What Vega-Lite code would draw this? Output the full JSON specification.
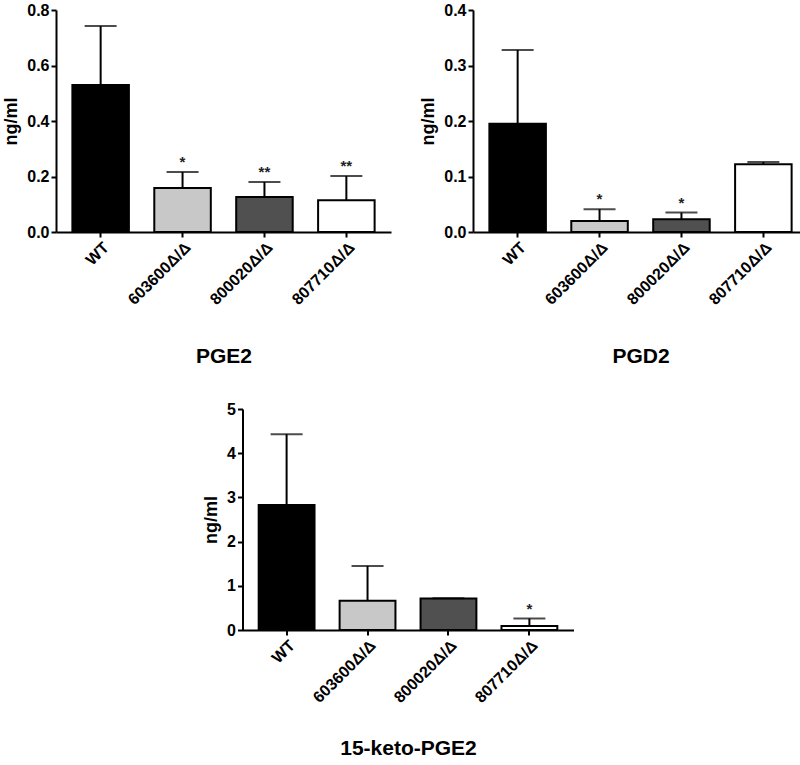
{
  "$schema": "https://vega.github.io/schema/vega-lite/v6.json",
  "background": "white",
  "padding": {"left": 2, "top": 2, "right": 0, "bottom": 0},
  "config": {
    "font": "Liberation Sans",
    "view": {"stroke": null},
    "axis": {
      "domainColor": "black", "domainWidth": 2, "tickColor": "black", "tickWidth": 2, "tickSize": 5,
      "labelFont": "Liberation Sans", "labelFontWeight": "bold", "labelFontSize": 16, "labelColor": "black",
      "titleFont": "Liberation Sans", "titleFontWeight": "bold", "titleColor": "black", "grid": false
    }
  },
  "datasets": {
    "d": [
      {"panel": "PGE2", "genotype": "WT", "mean": 0.53, "upper": 0.742, "sig": ""},
      {"panel": "PGE2", "genotype": "603600Δ/Δ", "mean": 0.159, "upper": 0.216, "sig": "*"},
      {"panel": "PGE2", "genotype": "800020Δ/Δ", "mean": 0.126, "upper": 0.180, "sig": "**"},
      {"panel": "PGE2", "genotype": "807710Δ/Δ", "mean": 0.114, "upper": 0.202, "sig": "**"},
      {"panel": "PGD2", "genotype": "WT", "mean": 0.195, "upper": 0.328, "sig": ""},
      {"panel": "PGD2", "genotype": "603600Δ/Δ", "mean": 0.020, "upper": 0.041, "sig": "*"},
      {"panel": "PGD2", "genotype": "800020Δ/Δ", "mean": 0.023, "upper": 0.035, "sig": "*"},
      {"panel": "PGD2", "genotype": "807710Δ/Δ", "mean": 0.122, "upper": 0.126, "sig": ""},
      {"panel": "15-keto-PGE2", "genotype": "WT", "mean": 2.83, "upper": 4.43, "sig": ""},
      {"panel": "15-keto-PGE2", "genotype": "603600Δ/Δ", "mean": 0.66, "upper": 1.45, "sig": ""},
      {"panel": "15-keto-PGE2", "genotype": "800020Δ/Δ", "mean": 0.71, "upper": 0.72, "sig": ""},
      {"panel": "15-keto-PGE2", "genotype": "807710Δ/Δ", "mean": 0.09, "upper": 0.26, "sig": "*"}
    ]
  },
  "vconcat": [
    {
      "hconcat": [
        {
          "width": 335, "height": 222,
          "data": {"name": "d"},
          "transform": [{"filter": "datum.panel === 'PGE2'"}],
          "encoding": {
            "x": {"field": "genotype", "type": "nominal", "sort": null,
              "scale": {"paddingInner": 0.31, "paddingOuter": 0.2},
              "axis": {"title": "PGE2", "labelAngle": -45, "titleFontSize": 21, "titlePadding": 38}}
          },
          "layer": [
            {"mark": {"type": "rule", "color": "black", "strokeWidth": 2},
             "encoding": {"y": {"field": "mean", "type": "quantitative"}, "y2": {"field": "upper"}}},
            {"mark": {"type": "tick", "color": "black", "thickness": 2, "size": 32},
             "encoding": {"y": {"field": "upper", "type": "quantitative"}}},
            {"mark": {"type": "bar", "stroke": "black", "strokeWidth": 2},
             "encoding": {
               "y": {"field": "mean", "type": "quantitative", "scale": {"domain": [0, 0.8]},
                 "axis": {"title": "ng/ml", "titleFontSize": 18, "titlePadding": 6, "values": [0, 0.2, 0.4, 0.6, 0.8], "format": ".1f"}},
               "color": {"field": "genotype", "type": "nominal", "sort": null, "legend": null,
                 "scale": {"domain": ["WT", "603600Δ/Δ", "800020Δ/Δ", "807710Δ/Δ"], "range": ["#000000", "#c8c8c8", "#505050", "#ffffff"]}}
             }},
            {"mark": {"type": "text", "baseline": "bottom", "dy": -2, "fontSize": 15, "fontWeight": "bold", "color": "#222"},
             "encoding": {"y": {"field": "upper", "type": "quantitative"}, "text": {"field": "sig"}}}
          ]
        },
        {
          "width": 335, "height": 222,
          "data": {"name": "d"},
          "transform": [{"filter": "datum.panel === 'PGD2'"}],
          "encoding": {
            "x": {"field": "genotype", "type": "nominal", "sort": null,
              "scale": {"paddingInner": 0.31, "paddingOuter": 0.2},
              "axis": {"title": "PGD2", "labelAngle": -45, "titleFontSize": 21, "titlePadding": 38}}
          },
          "layer": [
            {"mark": {"type": "rule", "color": "black", "strokeWidth": 2},
             "encoding": {"y": {"field": "mean", "type": "quantitative"}, "y2": {"field": "upper"}}},
            {"mark": {"type": "tick", "color": "black", "thickness": 2, "size": 32},
             "encoding": {"y": {"field": "upper", "type": "quantitative"}}},
            {"mark": {"type": "bar", "stroke": "black", "strokeWidth": 2},
             "encoding": {
               "y": {"field": "mean", "type": "quantitative", "scale": {"domain": [0, 0.4]},
                 "axis": {"title": "ng/ml", "titleFontSize": 18, "titlePadding": 6, "values": [0, 0.1, 0.2, 0.3, 0.4], "format": ".1f"}},
               "color": {"field": "genotype", "type": "nominal", "sort": null, "legend": null,
                 "scale": {"domain": ["WT", "603600Δ/Δ", "800020Δ/Δ", "807710Δ/Δ"], "range": ["#000000", "#c8c8c8", "#505050", "#ffffff"]}}
             }},
            {"mark": {"type": "text", "baseline": "bottom", "dy": -2, "fontSize": 15, "fontWeight": "bold", "color": "#222"},
             "encoding": {"y": {"field": "upper", "type": "quantitative"}, "text": {"field": "sig"}}}
          ]
        }
      ],
      "spacing": 28
    },
    {
      "width": 331, "height": 221,
      "data": {"name": "d"},
      "transform": [{"filter": "datum.panel === '15-keto-PGE2'"}],
      "encoding": {
        "x": {"field": "genotype", "type": "nominal", "sort": null,
          "scale": {"paddingInner": 0.31, "paddingOuter": 0.2},
          "axis": {"title": "15-keto-PGE2", "labelAngle": -45, "titleFontSize": 21, "titlePadding": 32}}
      },
      "layer": [
        {
          "layer": [
            {"mark": {"type": "rule", "color": "black", "strokeWidth": 2},
             "encoding": {"y": {"field": "mean", "type": "quantitative"}, "y2": {"field": "upper"}}},
            {"mark": {"type": "bar", "stroke": "black", "strokeWidth": 2},
             "encoding": {
               "y": {"field": "mean", "type": "quantitative", "scale": {"domain": [0, 5]},
                 "axis": {"title": "ng/ml", "titleFontSize": 18, "titlePadding": 6, "values": [0, 1, 2, 3, 4, 5], "format": "d"}},
               "color": {"field": "genotype", "type": "nominal", "sort": null, "legend": null,
                 "scale": {"domain": ["WT", "603600Δ/Δ", "800020Δ/Δ", "807710Δ/Δ"], "range": ["#000000", "#c8c8c8", "#505050", "#ffffff"]}}
             }},
            {"mark": {"type": "text", "baseline": "bottom", "dy": -2, "fontSize": 15, "fontWeight": "bold", "color": "#222"},
             "encoding": {"y": {"field": "upper", "type": "quantitative"}, "text": {"field": "sig"}}}
          ]
        },
        {"mark": {"type": "tick", "color": "black", "thickness": 2, "size": 32},
         "encoding": {"y": {"field": "upper", "type": "quantitative", "scale": {"domain": [0, 5]},
           "axis": {"orient": "right", "labels": false, "ticks": false, "domain": false, "title": null, "minExtent": 48, "maxExtent": 48}}}}
      ],
      "resolve": {"scale": {"y": "independent"}, "axis": {"y": "independent"}}
    }
  ],
  "spacing": 34,
  "center": true,
  "resolve": {"scale": {"y": "independent", "color": "independent"}}
}
